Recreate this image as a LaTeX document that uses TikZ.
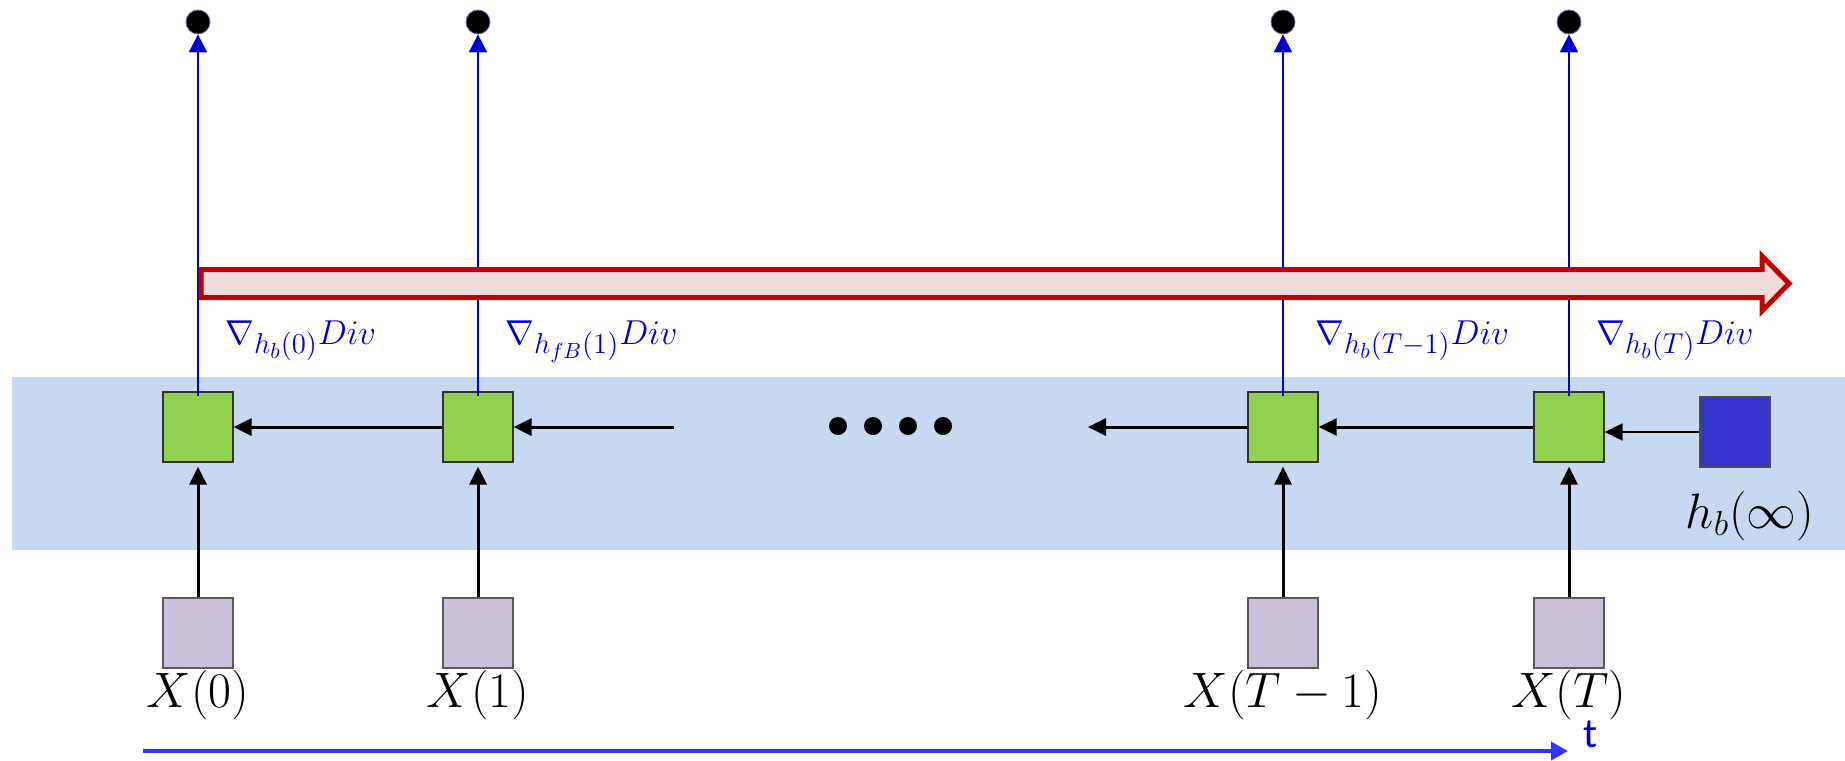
\documentclass[tikz,border=0pt]{standalone}
\usepackage{fontspec}
\usetikzlibrary{arrows.meta}
\newfontfamily\calib{Carlito}
\DeclareMathSizes{17}{17}{13.5}{10.5}
\definecolor{band}{RGB}{198,217,240}
\definecolor{cellgreen}{RGB}{146,208,80}
\definecolor{inpurple}{RGB}{204,193,218}
\definecolor{hbox}{RGB}{51,51,204}
\definecolor{gradblue}{RGB}{0,0,204}
\definecolor{timeblue}{RGB}{51,51,255}
\definecolor{redline}{RGB}{192,0,0}
\definecolor{redfill}{RGB}{242,220,219}
\begin{document}
\begin{tikzpicture}[x=0.5pt,y=-0.5pt,
  cell/.style={draw=black!80, line width=0.6pt, fill=cellgreen, minimum size=35pt, inner sep=0pt},
  inbox/.style={draw=black!65, line width=0.6pt, fill=inpurple, minimum size=35pt, inner sep=0pt},
  hnode/.style={draw=black!70, line width=0.6pt, fill=hbox, minimum size=35pt, inner sep=0pt},
  outdot/.style={circle, fill=black, draw=black!60!blue!60, line width=0.4pt, minimum size=12pt, inner sep=0pt},
  flow/.style={-{Triangle[length=9pt,width=8.5pt]}, line width=1.5pt, black},
  gradline/.style={-{Triangle[length=9pt,width=9pt]}, line width=1pt, gradblue},
  gradlabel/.style={text=gradblue, font=\fontsize{17}{20}\selectfont, anchor=base west, inner sep=0pt},
  xlabel/.style={font=\fontsize{23}{27}\selectfont, anchor=base, inner sep=0pt},
  edot/.style={circle, fill=black, minimum size=9pt, inner sep=0pt}
]
\useasboundingbox (0,0) rectangle (1845,760);
\fill[band] (12,377) rectangle (1845,550);

% recurrent cells
\node[cell] (g0) at (198,427) {};
\node[cell] (g1) at (478,427) {};
\node[cell] (g2) at (1283,427) {};
\node[cell] (g3) at (1569,427) {};
\node[hnode] (hinf) at (1735,432) {};

% inputs
\node[inbox] (x0) at (198,633) {};
\node[inbox] (x1) at (478,633) {};
\node[inbox] (x2) at (1283,633) {};
\node[inbox] (x3) at (1569,633) {};

% outputs
\node[outdot] (d0) at (198,22) {};
\node[outdot] (d1) at (478,22) {};
\node[outdot] (d2) at (1283,22) {};
\node[outdot] (d3) at (1569,22) {};

% blue gradient lines
\draw[gradline] ([yshift=-2.5pt]g0.north) -- (d0.south);
\draw[gradline] ([yshift=-2.5pt]g1.north) -- (d1.south);
\draw[gradline] ([yshift=-2.5pt]g2.north) -- (d2.south);
\draw[gradline] ([yshift=-2.5pt]g3.north) -- (d3.south);

% big red arrow
\draw[redline, line width=2.5pt, fill=redfill, line join=miter]
  (201,269.5) -- (1762,269.5) -- (1762,256) -- (1789,283.5) -- (1762,311)
  -- (1762,297.5) -- (201,297.5) -- cycle;

% gradient labels
\node[gradlabel] (l0) at (225,344) {$\nabla_{h_b(0)}Div$};
\node[gradlabel] (l1) at (505,344) {$\nabla_{h_{fB}(1)}Div$};
\node[gradlabel] (l2) at (1315,344) {$\nabla_{h_b(T-1)}Div$};
\node[gradlabel] (l3) at (1596,344) {$\nabla_{h_b(T)}Div$};

% ellipsis
\node[edot] (e1) at (838,426) {};
\node[edot] (e2) at (873,426) {};
\node[edot] (e3) at (908,426) {};
\node[edot] (e4) at (943,426) {};

% horizontal backward arrows
\coordinate (c1) at (674,427);
\coordinate (c2) at (1088,427);
\draw[flow] (g1.west) -- (g0.east);
\draw[flow] (c1) -- (g1.east);
\draw[flow] (g2.west) -- (c2);
\draw[flow] (g3.west) -- (g2.east);
\draw[flow, line width=1pt] (hinf.west) -- (g3.east |- hinf.west);

% vertical input arrows
\draw[flow] (x0.north) -- ([yshift=-2pt]g0.south);
\draw[flow] (x1.north) -- ([yshift=-2pt]g1.south);
\draw[flow] (x2.north) -- ([yshift=-2pt]g2.south);
\draw[flow] (x3.north) -- ([yshift=-2pt]g3.south);

% labels
\node[xlabel] (xl0) at (198,707) {$X(0)$};
\node[xlabel] (xl1) at (478,707) {$X(1)$};
\node[xlabel] (xl2) at (1283,707) {$X(T-1)$};
\node[xlabel] (xl3) at (1569,707) {$X(T)$};
\node[font=\fontsize{26.5}{31}\selectfont, anchor=base, inner sep=0pt] (hl) at (1750,528) {$h_b(\infty)$};

% time axis
\coordinate (t0) at (143,751);
\coordinate (t1) at (1568,751);
\draw[-{Triangle[length=8.5pt,width=9pt]}, line width=2pt, timeblue] (t0) -- (t1);
\node[font=\calib\fontsize{21}{25}\selectfont, text=gradblue, anchor=base west, inner sep=0pt] (tl) at (1583,747) {t};
\end{tikzpicture}
\end{document}
